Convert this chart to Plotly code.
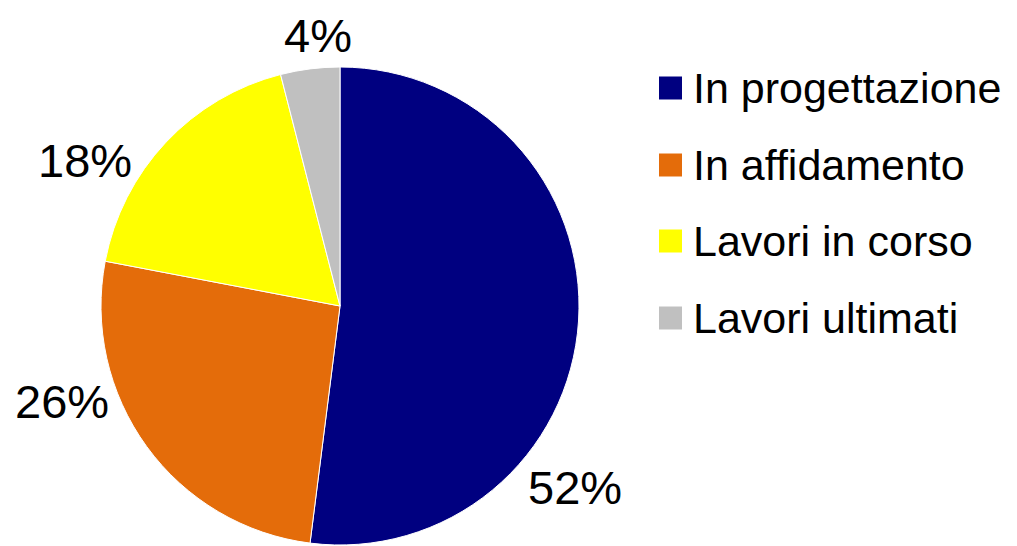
import plotly.graph_objects as go

categories = ["In progettazione", "In affidamento", "Lavori in corso", "Lavori ultimati"]
values = [52, 26, 18, 4]
colors = ["#000080", "#E46C0A", "#FFFF00", "#C0C0C0"]

W, H = 1017, 546
FONT = "Liberation Sans, Arial, sans-serif"

# label anchor points (pixel centers) for the outside percent labels, Excel "best fit" style
label_pos = [(575, 487), (62, 401), (85, 160), (318, 36)]

fig = go.Figure()
fig.add_trace(go.Pie(
    labels=categories,
    values=values,
    sort=False,
    direction="clockwise",
    rotation=0,
    marker=dict(colors=colors, line=dict(color="white", width=1)),
    textinfo="none",
    showlegend=False,
    domain=dict(x=[101 / W, 579 / W], y=[0, 480 / H]),
    hoverinfo="label+percent",
))

total = sum(values)
for v, (px, py) in zip(values, label_pos):
    fig.add_annotation(xref="paper", yref="paper", x=px / W, y=1 - py / H,
                       text=f"{round(100 * v / total)}%", showarrow=False,
                       xanchor="center", yanchor="middle",
                       font=dict(family=FONT, size=47, color="#000000"))

# Manual legend (larger squares and spacing like the reference)
row_y = [88, 165, 241, 318]
sq = 23
for cat, col, yc in zip(categories, colors, row_y):
    fig.add_shape(type="rect", xref="paper", yref="paper",
                  x0=659 / W, x1=(659 + sq) / W,
                  y0=1 - (yc + sq / 2) / H, y1=1 - (yc - sq / 2) / H,
                  fillcolor=col, line=dict(width=0))
    fig.add_annotation(xref="paper", yref="paper", x=691 / W, y=1 - yc / H,
                       text=cat, showarrow=False, xanchor="left", yanchor="middle",
                       font=dict(family=FONT, size=43, color="#000000"))

fig.update_layout(
    width=W, height=H,
    margin=dict(l=0, r=0, t=0, b=0),
    paper_bgcolor="white",
    plot_bgcolor="white",
    font=dict(family=FONT),
)

fig.write_html("out.html", config={"displayModeBar": False},
               post_script="document.body.style.margin='0';document.body.style.overflow='hidden';")
